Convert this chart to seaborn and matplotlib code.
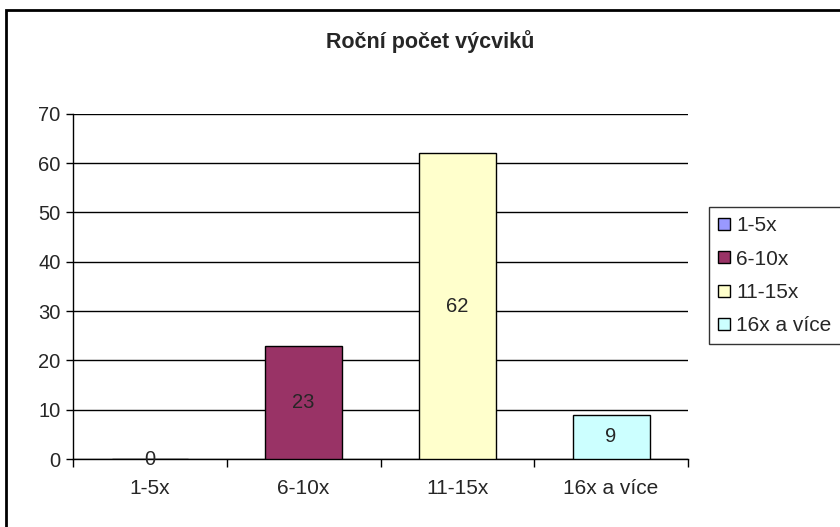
import pandas as pd
import seaborn as sns
import matplotlib.pyplot as plt
from matplotlib.patches import Rectangle
from matplotlib.lines import Line2D

kategorie = ["1-5x", "6-10x", "11-15x", "16x a více"]
pocty = [0, 23, 62, 9]
barvy = ["#9999FF", "#993366", "#FFFFCC", "#CCFFFF"]

df = pd.DataFrame({"kategorie": kategorie, "pocet": pocty})

sns.set_style("white")
plt.rcParams["font.family"] = ["Liberation Sans", "DejaVu Sans"]

fig = plt.figure(figsize = (8.4, 5.27), dpi = 100)
ax = fig.add_axes([0.087, 0.129, 0.732, 0.655])

# Graf -------------------------------------------------------------------------

sns.barplot(data = df, x = "kategorie", y = "pocet", hue = "kategorie",
            palette = barvy, dodge = False, width = 0.5, edgecolor = "black",
            linewidth = 1, saturation = 1, legend = False, ax = ax, zorder = 3)

for cont in ax.containers:
  ax.bar_label(cont, label_type = "center", fontsize = 14.5, zorder = 4)

ax.set_ylim(0, 70)
ax.set_xlim(-0.5, 3.5)
ax.set_yticks(range(0, 71, 10))
ax.yaxis.grid(True, color = "black", linewidth = 1)
ax.set_axisbelow(True)
ax.set_xlabel("")
ax.set_ylabel("")

for s in ["top", "right"]:
  ax.spines[s].set_visible(False)
for s in ["left", "bottom"]:
  ax.spines[s].set_color("black")
  ax.spines[s].set_linewidth(1)

ax.tick_params(axis = "y", left = True, direction = "out", length = 5, width = 1,
               color = "black", labelsize = 14.5, pad = 4)
ax.set_xticks([-0.5, 0.5, 1.5, 2.5, 3.5], minor = True)
ax.tick_params(axis = "x", which = "minor", bottom = True, direction = "out",
               length = 6, width = 1, color = "black")
ax.tick_params(axis = "x", which = "major", bottom = False, labelsize = 15, pad = 11)

fig.text(0.512, 0.922, "Roční počet výcviků", ha = "center", va = "center",
         fontsize = 15.5, fontweight = "bold")

# Legenda ----------------------------------------------------------------------

handles = [Line2D([], [], marker = "s", linestyle = "", markersize = 8,
                  markerfacecolor = c, markeredgecolor = "black") for c in barvy]
leg = fig.legend(handles, kategorie, loc = "upper left",
                 bbox_to_anchor = (0.844, 0.607), fontsize = 15, frameon = True,
                 fancybox = False, edgecolor = "black", handlelength = 0.55,
                 handletextpad = 0.3, labelspacing = 0.68, borderpad = 0.45,
                 borderaxespad = 0)
leg.get_frame().set_linewidth(1)

# Rámeček grafu -----------------------------------------------------------------

fig.patches.append(Rectangle((0.007, -0.1), 1.2, 1.081, transform = fig.transFigure,
                             fill = False, edgecolor = "black", linewidth = 2))

fig.savefig("out.png", dpi = 100)
